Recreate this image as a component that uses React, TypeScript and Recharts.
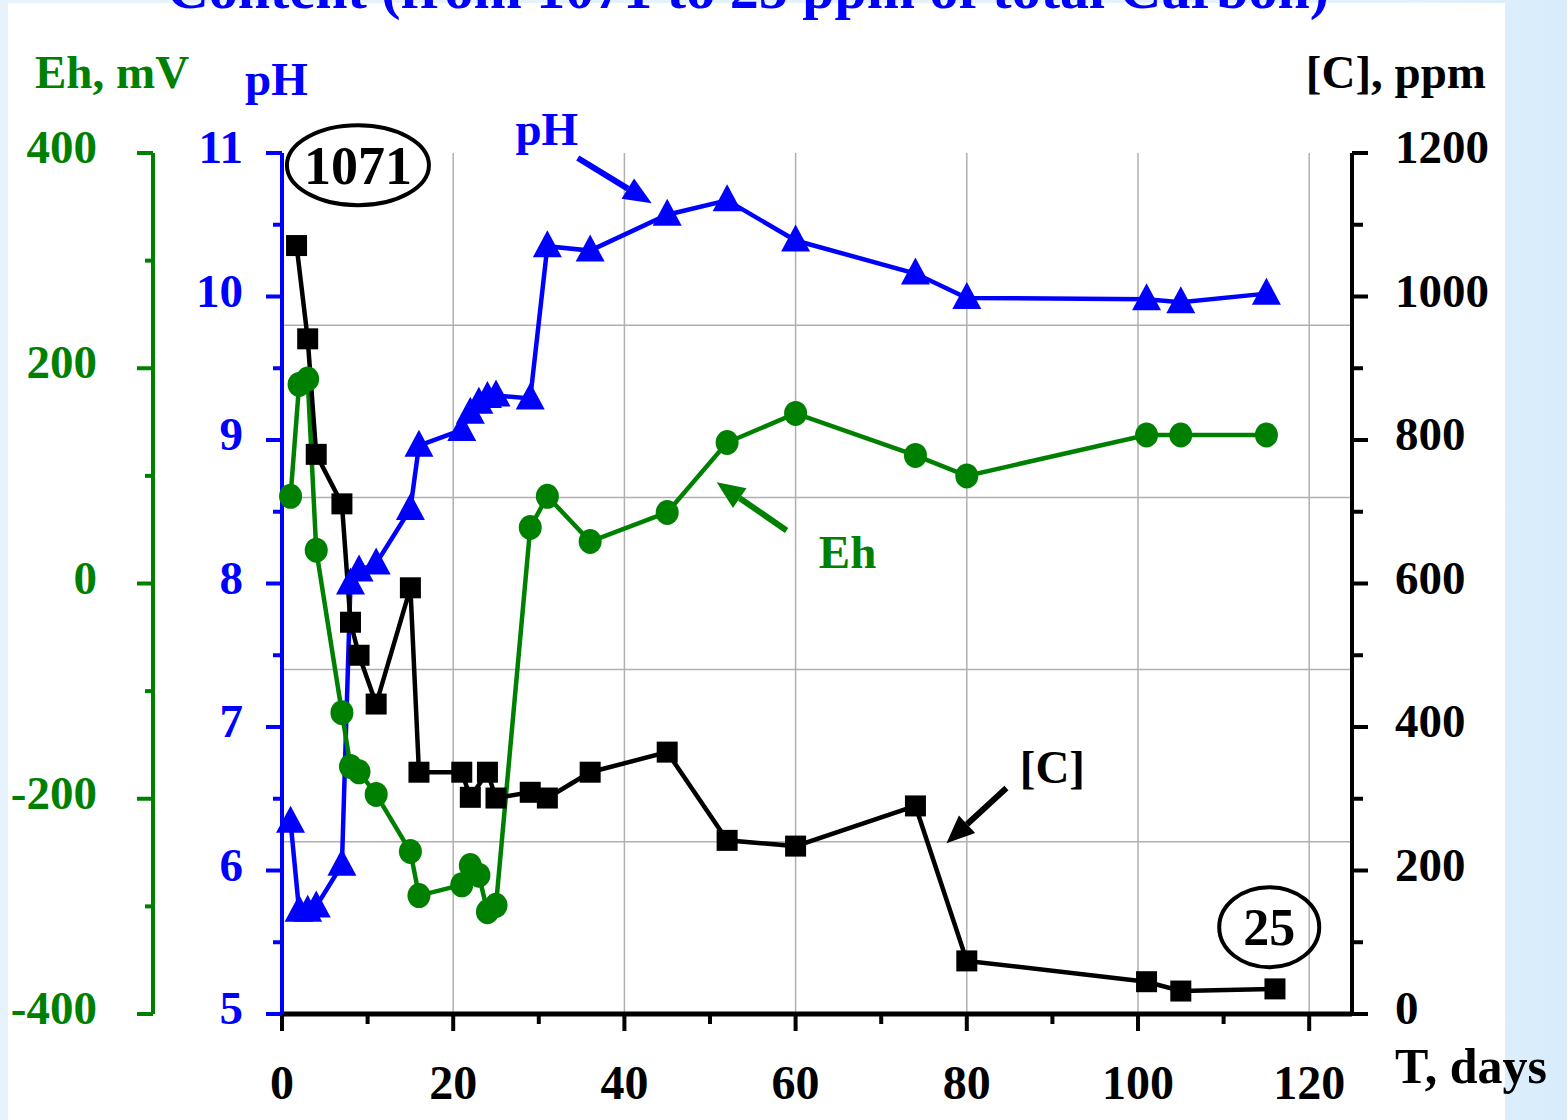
import React from 'react';
import { LineChart, Line, XAxis, YAxis, CartesianGrid, ReferenceDot, ReferenceLine } from 'recharts';

// pH (blue triangles)
const phDays = [1, 2, 3, 4, 7, 8, 9, 11, 15, 16, 21, 22, 23, 24, 25, 29, 31, 36, 45, 52, 60, 74, 80, 101, 105, 115];
const phValues = [6.34, 5.72, 5.72, 5.75, 6.04, 8.0, 8.09, 8.14, 8.52, 8.96, 9.07, 9.19, 9.26, 9.3, 9.31, 9.29, 10.35, 10.32, 10.57, 10.67, 10.39, 10.16, 9.99, 9.98, 9.96, 10.02];

// Eh, mV (green circles)
const ehDays = [1, 2, 3, 4, 7, 8, 9, 11, 15, 16, 21, 22, 23, 24, 25, 29, 31, 36, 45, 52, 60, 74, 80, 101, 105, 115];
const ehValues = [81, 185, 190, 31, -120, -170, -175, -196, -249, -290, -280, -262, -271, -305, -299, 52, 81, 39, 66, 131, 158, 119, 100, 138, 138, 138];

// [C], ppm (black squares)
const cDays = [1.7, 3, 4, 7, 8, 9, 11, 15, 16, 21, 22, 24, 25, 29, 31, 36, 45, 52, 60, 74, 80, 101, 105, 116];
const cValues = [1071, 941, 780, 711, 546, 500, 432, 594, 337, 337, 302, 337, 301, 309, 301, 337, 365, 242, 234, 290, 74, 45, 32, 35];

const xDomain = [0, 125];
const xTicks = [0, 10, 20, 30, 40, 50, 60, 70, 80, 90, 100, 110, 120];
const phTicks = [5, 5.5, 6, 6.5, 7, 7.5, 8, 8.5, 9, 9.5, 10, 10.5, 11];
const ehTicks = [-400, -300, -200, -100, 0, 100, 200, 300, 400];
const cTicks = [0, 100, 200, 300, 400, 500, 600, 700, 800, 900, 1000, 1100, 1200];
const gridX = [20, 40, 60, 80, 100, 120];

const phData = phDays.map((day, i) => ({ day, v: phValues[i] }));
const ehData = ehDays.map((day, i) => ({ day, v: ehValues[i] }));
const cData = cDays.map((day, i) => ({ day, v: cValues[i] }));

const BLUE = '#0000ff';
const GREEN = '#008000';
const FONT = "'Liberation Serif', 'Times New Roman', serif";

const isInt = (v: number, step: number) => Math.abs(v / step - Math.round(v / step)) < 1e-6;

function XTick(props: any) {
  const { x, y, payload } = props;
  const major = isInt(payload.value, 20);
  return (
    <g>
      <line x1={x} x2={x} y1={y} y2={y + (major ? 17 : 10)} stroke="#000" strokeWidth={4} />
      {major && (
        <text x={x} y={y + 85} textAnchor="middle" fontFamily={FONT} fontWeight="bold" fontSize={48} fill="#000">
          {payload.value}
        </text>
      )}
    </g>
  );
}

function PhTick(props: any) {
  const { x, y, payload } = props;
  const major = isInt(payload.value, 1);
  return (
    <g>
      <line x1={x} x2={x - (major ? 16 : 9)} y1={y} y2={y} stroke={BLUE} strokeWidth={4} />
      {major && (
        <text x={x - 39} y={y + 10} textAnchor="end" fontFamily={FONT} fontWeight="bold" fontSize={47} fill={BLUE}>
          {payload.value}
        </text>
      )}
    </g>
  );
}

function EhTick(props: any) {
  const { x, y, payload } = props;
  const major = isInt(payload.value, 200);
  return (
    <g>
      <line x1={x} x2={x - (major ? 16 : 8)} y1={y} y2={y} stroke={GREEN} strokeWidth={4} />
      {major && (
        <text x={x - 56} y={y + 10} textAnchor="end" fontFamily={FONT} fontWeight="bold" fontSize={47} fill={GREEN}>
          {payload.value}
        </text>
      )}
    </g>
  );
}

function CTick(props: any) {
  const { x, y, payload } = props;
  const major = isInt(payload.value, 200);
  return (
    <g>
      <line x1={x} x2={x + (major ? 16 : 11)} y1={y} y2={y} stroke="#000" strokeWidth={4} />
      {major && (
        <text x={x + 43} y={y + 10} textAnchor="start" fontFamily={FONT} fontWeight="bold" fontSize={47} fill="#000">
          {payload.value}
        </text>
      )}
    </g>
  );
}

const triDot = (p: any) => {
  const { cx, cy, index } = p;
  if (cx == null || cy == null) return <g key={`t${index}`} />;
  return <polygon key={`t${index}`} points={`${cx},${cy - 16} ${cx + 14.5},${cy + 11} ${cx - 14.5},${cy + 11}`} fill={BLUE} />;
};

const circDot = (p: any) => {
  const { cx, cy, index } = p;
  if (cx == null || cy == null) return <g key={`c${index}`} />;
  return <ellipse key={`c${index}`} cx={cx} cy={cy} rx={11.5} ry={12.5} fill={GREEN} />;
};

const sqDot = (p: any) => {
  const { cx, cy, index } = p;
  if (cx == null || cy == null) return <g key={`s${index}`} />;
  return <rect key={`s${index}`} x={cx - 10.5} y={cy - 10.5} width={21} height={21} fill="#000" />;
};

const arrow = (color: string) => (p: any) => {
  const { x1, y1, x2, y2 } = p;
  const ang = Math.atan2(y2 - y1, x2 - x1);
  const L = 28;
  const W = 12;
  const bx = x2 - L * Math.cos(ang);
  const by = y2 - L * Math.sin(ang);
  const nx = -Math.sin(ang) * W;
  const ny = Math.cos(ang) * W;
  return (
    <g>
      <line x1={x1} y1={y1} x2={bx} y2={by} stroke={color} strokeWidth={6} />
      <polygon points={`${x2},${y2} ${bx + nx},${by + ny} ${bx - nx},${by - ny}`} fill={color} />
    </g>
  );
};

const label = (text: string, color: string, size: number) => (p: any) => (
  <text x={p.cx} y={p.cy} textAnchor="middle" fontFamily={FONT} fontWeight="bold" fontSize={size} fill={color}>
    {text}
  </text>
);

const oval = (text: string, rx: number, ry: number, size: number) => (p: any) => (
  <g>
    <ellipse cx={p.cx} cy={p.cy} rx={rx} ry={ry} fill="none" stroke="#000" strokeWidth={4} />
    <text x={p.cx} y={p.cy + size * 0.34} textAnchor="middle" fontFamily={FONT} fontWeight="bold" fontSize={size} fill="#000">
      {text}
    </text>
  </g>
);

// grid: 5 equal horizontal bands, vertical lines every 20 days
const hGrid = (p: any) => {
  const { top, height } = p.offset;
  return [1, 2, 3, 4].map((k) => top + (height * k) / 5);
};
const vGrid = (p: any) => {
  const { left, width } = p.offset;
  return gridX.map((d) => left + (width * (d - xDomain[0])) / (xDomain[1] - xDomain[0]));
};

export default function App() {
  return (
    <div
      style={{
        position: 'absolute',
        left: 0,
        top: 0,
        width: 1567,
        height: 1120,
        overflow: 'hidden',
        background: 'linear-gradient(90deg, #e6f3fd 0%, #e3f1fc 90%, #d8ecfb 100%)',
      }}
    >
      <div style={{ position: 'absolute', left: 8, top: 3, width: 1497, height: 1117, background: '#fff' }} />
      <div style={{ position: 'absolute', left: 0, top: 0 }}>
        <LineChart width={1567} height={1120} margin={{ top: 153, right: 15, bottom: 16, left: 23 }}>
          <XAxis
            xAxisId="x"
            type="number"
            dataKey="day"
            domain={xDomain}
            ticks={xTicks}
            interval={0}
            height={90}
            tickSize={0}
            tickMargin={0}
            tickLine={false}
            axisLine={{ stroke: '#000', strokeWidth: 5 }}
            tick={<XTick />}
          />
          <CartesianGrid
            xAxisId="x"
            yAxisId="c"
            stroke="#b0b0b0"
            strokeWidth={1.5}
            horizontalCoordinatesGenerator={hGrid}
            verticalCoordinatesGenerator={vGrid}
          />

          <YAxis
            yAxisId="b"
            orientation="left"
            type="number"
            domain={[-400, 400]}
            ticks={ehTicks}
            interval={0}
            width={130}
            tickSize={0}
            tickMargin={0}
            tickLine={false}
            axisLine={{ stroke: GREEN, strokeWidth: 4 }}
            tick={<EhTick />}
          />
          <YAxis
            yAxisId="a"
            orientation="left"
            type="number"
            domain={[5, 11]}
            ticks={phTicks}
            interval={0}
            width={129}
            tickSize={0}
            tickMargin={0}
            tickLine={false}
            axisLine={{ stroke: BLUE, strokeWidth: 4 }}
            tick={<PhTick />}
          />
          <YAxis
            yAxisId="c"
            orientation="right"
            type="number"
            domain={[0, 1200]}
            ticks={cTicks}
            interval={0}
            width={200}
            tickSize={0}
            tickMargin={0}
            tickLine={false}
            axisLine={{ stroke: '#000', strokeWidth: 4 }}
            tick={<CTick />}
          />

          <Line
            xAxisId="x"
            yAxisId="a"
            data={phData}
            dataKey="v"
            type="linear"
            stroke={BLUE}
            strokeWidth={4.5}
            dot={triDot}
            activeDot={false}
            isAnimationActive={false}
          />
          <Line
            xAxisId="x"
            yAxisId="b"
            data={ehData}
            dataKey="v"
            type="linear"
            stroke={GREEN}
            strokeWidth={4.5}
            dot={circDot}
            activeDot={false}
            isAnimationActive={false}
          />
          <Line
            xAxisId="x"
            yAxisId="c"
            data={cData}
            dataKey="v"
            type="linear"
            stroke="#000"
            strokeWidth={4.5}
            dot={sqDot}
            activeDot={false}
            isAnimationActive={false}
          />

          <ReferenceLine xAxisId="x" yAxisId="c" segment={[{ x: 34.55, y: 1193 }, { x: 43.19, y: 1130 }]} shape={arrow(BLUE)} />
          <ReferenceLine xAxisId="x" yAxisId="c" segment={[{ x: 58.95, y: 674 }, { x: 50.78, y: 741 }]} shape={arrow(GREEN)} />
          <ReferenceLine xAxisId="x" yAxisId="c" segment={[{ x: 84.63, y: 315 }, { x: 77.62, y: 238 }]} shape={arrow('#000')} />

          <ReferenceDot xAxisId="x" yAxisId="c" x={30.93} y={1211} ifOverflow="visible" shape={label('pH', BLUE, 47)} />
          <ReferenceDot xAxisId="x" yAxisId="c" x={66.07} y={622} ifOverflow="visible" shape={label('Eh', GREEN, 47)} />
          <ReferenceDot xAxisId="x" yAxisId="c" x={90.0} y={322} ifOverflow="visible" shape={label('[C]', '#000', 47)} />
          <ReferenceDot xAxisId="x" yAxisId="c" x={8.87} y={1183} ifOverflow="visible" shape={oval('1071', 71, 40, 54)} />
          <ReferenceDot xAxisId="x" yAxisId="c" x={115.33} y={121} ifOverflow="visible" shape={oval('25', 50, 40, 52)} />
        </LineChart>
      </div>
      <svg width={1567} height={1120} style={{ position: 'absolute', left: 0, top: 0, pointerEvents: 'none' }}>
        <text x={748} y={8} textAnchor="middle" fontFamily={FONT} fontWeight="bold" fontSize={58} fill={BLUE}>
          Content (from 1071 to 25 ppm of total Carbon)
        </text>
        <text x={35} y={88} fontFamily={FONT} fontWeight="bold" fontSize={47} fill={GREEN}>
          Eh, mV
        </text>
        <text x={245} y={95} fontFamily={FONT} fontWeight="bold" fontSize={47} fill={BLUE}>
          pH
        </text>
        <text x={1486} y={88} textAnchor="end" fontFamily={FONT} fontWeight="bold" fontSize={47} fill="#000">
          [C], ppm
        </text>
        <text x={1395} y={1083} fontFamily={FONT} fontWeight="bold" fontSize={50} fill="#000">
          T, days
        </text>
      </svg>
    </div>
  );
}
